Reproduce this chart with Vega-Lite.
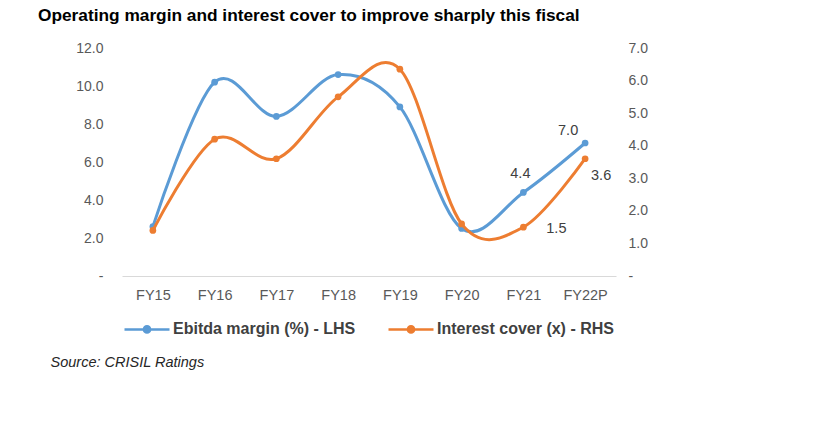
{
  "$schema": "https://vega.github.io/schema/vega-lite/v6.json",
  "autosize": {"type": "none"},
  "width": 494,
  "height": 228,
  "padding": {"left": 122, "top": 48, "right": 202, "bottom": 148},
  "background": "white",
  "config": {
    "view": {"stroke": null},
    "font": "Liberation Sans",
    "axis": {"labelFont": "Liberation Sans", "labelFontSize": 14, "labelColor": "#595959", "grid": false, "ticks": false, "tickSize": 0, "domain": false}
  },
  "title": {
    "text": "Operating margin and interest cover to improve sharply this fiscal",
    "anchor": "start", "frame": "group", "dx": -84, "offset": 17,
    "font": "Liberation Sans", "fontSize": 17.3, "fontWeight": "bold", "color": "#000000"
  },
  "data": {
    "values": [
      {"year": "FY15", "series": "Ebitda margin (%) - LHS", "value": 2.6},
      {"year": "FY16", "series": "Ebitda margin (%) - LHS", "value": 10.2},
      {"year": "FY17", "series": "Ebitda margin (%) - LHS", "value": 8.4},
      {"year": "FY18", "series": "Ebitda margin (%) - LHS", "value": 10.6},
      {"year": "FY19", "series": "Ebitda margin (%) - LHS", "value": 8.9},
      {"year": "FY20", "series": "Ebitda margin (%) - LHS", "value": 2.5},
      {"year": "FY21", "series": "Ebitda margin (%) - LHS", "value": 4.4},
      {"year": "FY22P", "series": "Ebitda margin (%) - LHS", "value": 7.0},
      {"year": "FY15", "series": "Interest cover (x) - RHS", "value": 1.4},
      {"year": "FY16", "series": "Interest cover (x) - RHS", "value": 4.2},
      {"year": "FY17", "series": "Interest cover (x) - RHS", "value": 3.6},
      {"year": "FY18", "series": "Interest cover (x) - RHS", "value": 5.5},
      {"year": "FY19", "series": "Interest cover (x) - RHS", "value": 6.35},
      {"year": "FY20", "series": "Interest cover (x) - RHS", "value": 1.6},
      {"year": "FY21", "series": "Interest cover (x) - RHS", "value": 1.5},
      {"year": "FY22P", "series": "Interest cover (x) - RHS", "value": 3.6}
    ]
  },
  "encoding": {
    "x": {
      "field": "year", "type": "nominal", "sort": null,
      "scale": {"type": "point", "padding": 0.5},
      "axis": {
        "labelAngle": 0, "labelPadding": 12, "labelFontSize": 14.5, "domain": true, "domainColor": "#d9d9d9", "domainWidth": 1,
        "title": "Source: CRISIL Ratings", "titleFont": "Liberation Sans", "titleFontStyle": "italic", "titleFontWeight": "normal",
        "titleFontSize": 14.5, "titleColor": "#262626", "titleAnchor": "start", "titleAlign": "left",
        "titleBaseline": "middle", "titleX": -72, "titleY": 86
      }
    }
  },
  "layer": [
    {
      "transform": [{"filter": "datum.series == 'Ebitda margin (%) - LHS'"}],
      "encoding": {
        "y": {
          "field": "value", "type": "quantitative",
          "scale": {"domain": [0, 12], "nice": false},
          "axis": {"orient": "left", "title": null, "values": [0, 2, 4, 6, 8, 10, 12], "labelPadding": 19,
                   "labelExpr": "datum.value == 0 ? '-' : format(datum.value, '.1f')"}
        }
      },
      "layer": [
        {
          "mark": {"type": "line", "interpolate": "cardinal", "strokeWidth": 3, "point": {"filled": true, "size": 45}},
          "encoding": {
            "color": {"field": "series", "type": "nominal",
              "scale": {"domain": ["Ebitda margin (%) - LHS", "Interest cover (x) - RHS"], "range": ["#5B9BD5", "#ED7D31"]},
              "legend": {
                "orient": "none", "legendX": 1, "legendY": 257, "direction": "horizontal", "title": null,
                "symbolType": "M-1,0H1M-0.14,0A0.14,0.14 0 1,0 0.14,0A0.14,0.14 0 1,0 -0.14,0Z",
                "symbolSize": 2025, "symbolStrokeWidth": 2.5, "labelOffset": 2, "columnPadding": 27, "labelLimit": 0,
                "labelFont": "Liberation Sans", "labelFontSize": 16, "labelFontWeight": "bold", "labelColor": "#404040"
              }
            }
          }
        },
        {
          "transform": [{"filter": "datum.year == 'FY21'"}],
          "mark": {"type": "text", "dx": -3, "dy": -18, "fontSize": 14.5, "color": "#404040", "font": "Liberation Sans"},
          "encoding": {"text": {"field": "value", "type": "quantitative", "format": ".1f"}}
        },
        {
          "transform": [{"filter": "datum.year == 'FY22P'"}],
          "mark": {"type": "text", "dx": -17, "dy": -12, "fontSize": 14.5, "color": "#404040", "font": "Liberation Sans"},
          "encoding": {"text": {"field": "value", "type": "quantitative", "format": ".1f"}}
        }
      ]
    },
    {
      "transform": [{"filter": "datum.series == 'Interest cover (x) - RHS'"}],
      "encoding": {
        "y": {
          "field": "value", "type": "quantitative",
          "scale": {"domain": [0, 7], "nice": false},
          "axis": {"orient": "right", "title": null, "values": [0, 1, 2, 3, 4, 5, 6, 7], "labelPadding": 12,
                   "labelExpr": "datum.value == 0 ? '-' : format(datum.value, '.1f')"}
        }
      },
      "layer": [
        {
          "mark": {"type": "line", "interpolate": "cardinal", "strokeWidth": 3, "point": {"filled": true, "size": 45}},
          "encoding": {"color": {"field": "series", "type": "nominal"}}
        },
        {
          "transform": [{"filter": "datum.year == 'FY21'"}],
          "mark": {"type": "text", "dx": 33, "dy": 2, "fontSize": 14.5, "color": "#404040", "font": "Liberation Sans"},
          "encoding": {"text": {"field": "value", "type": "quantitative", "format": ".1f"}}
        },
        {
          "transform": [{"filter": "datum.year == 'FY22P'"}],
          "mark": {"type": "text", "dx": 16, "dy": 17, "fontSize": 14.5, "color": "#404040", "font": "Liberation Sans"},
          "encoding": {"text": {"field": "value", "type": "quantitative", "format": ".1f"}}
        }
      ]
    }
  ],
  "resolve": {"scale": {"y": "independent"}}
}
